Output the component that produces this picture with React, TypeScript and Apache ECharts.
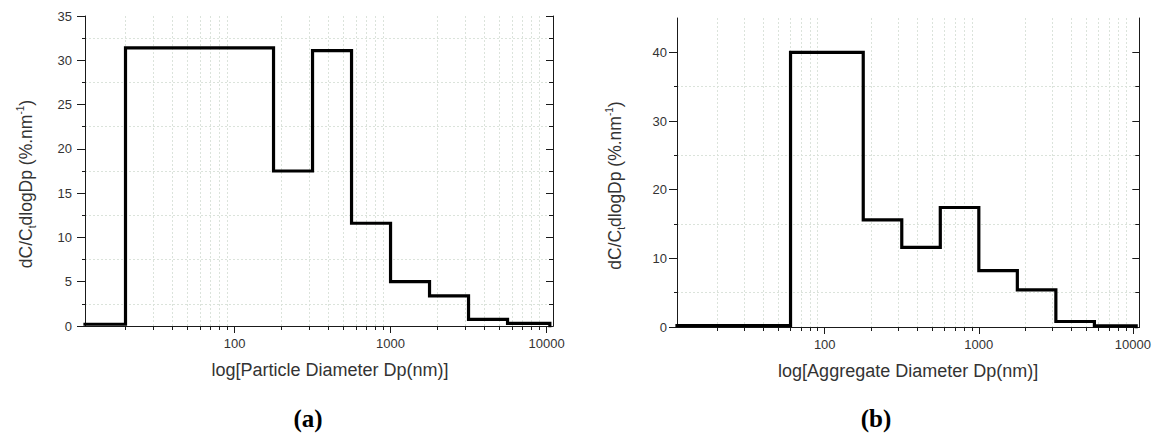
import React, { useEffect, useRef } from 'react';
import * as echarts from 'echarts';

// ---- data ----
const X_MIN = 11;
const X_MAX = 11000;
const xMajorTicks = [100, 1000, 10000];
const xMinorTicks = [20, 30, 40, 50, 60, 70, 80, 90, 200, 300, 400, 500, 600, 700, 800, 900, 2000, 3000, 4000, 5000, 6000, 7000, 8000, 9000];

// panel (a): particle diameter bin edges (nm) and heights
const edgesA = [11, 20, 177.8, 316.2, 562.3, 1000, 1778, 3162, 5623, 10500];
const valuesA = [0.2, 31.4, 17.5, 31.1, 11.6, 5.0, 3.4, 0.75, 0.3];
const yMaxA = 35;
const yMajorTicksA = [0, 5, 10, 15, 20, 25, 30, 35];
const yMinorTicksA = [2.5, 7.5, 12.5, 17.5, 22.5, 27.5, 32.5];

// panel (b): aggregate diameter bin edges (nm) and heights
const edgesB = [11, 60, 177.8, 316.2, 562.3, 1000, 1778, 3162, 5623, 10500];
const valuesB = [0.2, 40.0, 15.6, 11.6, 17.4, 8.2, 5.4, 0.8, 0.15];
const yMaxB = 45;
const yMajorTicksB = [0, 10, 20, 30, 40];
const yMinorTicksB = [5, 15, 25, 35];

const xTitleA = 'log[Particle Diameter Dp(nm)]';
const xTitleB = 'log[Aggregate Diameter Dp(nm)]';
const panelLabels = ['(a)', '(b)'];

const FONT = '"Liberation Sans", Arial, sans-serif';
const AXIS_COLOR = '#1a1a1a';
const LABEL_COLOR = '#333';
const GRID_STYLE = { color: '#dbe3db', width: 1, type: [2, 2] as any };

function stepData(edges: number[], values: number[]) {
  return edges.map((e, i) => [e, i < values.length ? values[i] : 0]);
}

const yTitleRich = {
  a: { fontSize: 17.5, fontFamily: FONT, color: LABEL_COLOR, lineHeight: 22 },
  sub: { fontSize: 10, fontFamily: FONT, color: LABEL_COLOR, lineHeight: 10, verticalAlign: 'bottom' },
  sup: { fontSize: 10, fontFamily: FONT, color: LABEL_COLOR, lineHeight: 10, verticalAlign: 'top' },
};
const yTitle = '{a|dC/C}{sub|t}{a|dlogDp (%.nm}{sup|-1}{a|)}';

function buildPanel(
  g: number,
  yMax: number,
  yMajor: number[],
  yMinor: number[],
  xTitle: string,
  xTitlePad: number[],
  yLabelMargin: number,
  yNameGap: number,
) {
  const line = { show: true, lineStyle: { color: AXIS_COLOR, width: 1 } };
  const tickStyle = { color: AXIS_COLOR, width: 1 };
  const xBase = { type: 'log', logBase: 10, gridIndex: g, min: X_MIN, max: X_MAX };
  const yBase = { type: 'value', gridIndex: g, min: 0, max: yMax };
  const xAxes = [
    {
      ...xBase,
      position: 'bottom',
      axisLine: line,
      axisTick: { show: true, inside: false, length: 6, customValues: xMajorTicks, lineStyle: tickStyle },
      axisLabel: {
        show: true,
        customValues: xMajorTicks,
        formatter: (v: number) => String(Math.round(v)),
        color: LABEL_COLOR,
        fontSize: 13,
        fontFamily: FONT,
        margin: 11,
      },
      splitLine: { show: false },
      name: xTitle,
      nameLocation: 'middle',
      nameGap: 35,
      nameTextStyle: { fontSize: 18, fontFamily: FONT, color: LABEL_COLOR, padding: xTitlePad },
    },
    {
      ...xBase,
      position: 'bottom',
      axisLine: { show: false },
      axisTick: { show: true, inside: false, length: 4, customValues: xMinorTicks, lineStyle: tickStyle },
      axisLabel: { show: false },
      splitLine: { show: true, lineStyle: GRID_STYLE },
    },
    {
      ...xBase,
      position: 'top',
      axisLine: line,
      axisTick: { show: true, inside: true, length: 7, customValues: xMajorTicks, lineStyle: tickStyle },
      axisLabel: { show: false },
      splitLine: { show: false },
    },
    {
      ...xBase,
      position: 'top',
      axisLine: { show: false },
      axisTick: { show: true, inside: true, length: 4, customValues: xMinorTicks, lineStyle: tickStyle },
      axisLabel: { show: false },
      splitLine: { show: false },
    },
  ];
  const yAxes = [
    {
      ...yBase,
      position: 'left',
      axisLine: line,
      axisTick: { show: true, inside: false, length: 8, customValues: yMajor, lineStyle: tickStyle },
      axisLabel: {
        show: true,
        customValues: yMajor,
        color: LABEL_COLOR,
        fontSize: 13,
        fontFamily: FONT,
        margin: yLabelMargin,
      },
      splitLine: { show: false },
      name: yTitle,
      nameLocation: 'middle',
      nameGap: yNameGap,
      nameTextStyle: { rich: yTitleRich, padding: [0, 26, 0, 0] },
    },
    {
      ...yBase,
      position: 'left',
      axisLine: { show: false },
      axisTick: { show: true, inside: false, length: 3, customValues: yMinor, lineStyle: tickStyle },
      axisLabel: { show: false },
      splitLine: { show: true, lineStyle: GRID_STYLE },
    },
    {
      ...yBase,
      position: 'right',
      axisLine: line,
      axisTick: { show: true, inside: true, length: 7, customValues: yMajor, lineStyle: tickStyle },
      axisLabel: { show: false },
      splitLine: { show: false },
    },
    {
      ...yBase,
      position: 'right',
      axisLine: { show: false },
      axisTick: { show: true, inside: true, length: 4, customValues: yMinor, lineStyle: tickStyle },
      axisLabel: { show: false },
      splitLine: { show: false },
    },
  ];
  return { xAxes, yAxes };
}

export default function App() {
  const ref = useRef<HTMLDivElement>(null);
  useEffect(() => {
    if (!ref.current) return;
    const chart = echarts.init(ref.current, undefined, { renderer: 'svg' });
    const pA = buildPanel(0, yMaxA, yMajorTicksA, yMinorTicksA, xTitleA, [0, 0, 0, 22], 13, 48);
    const pB = buildPanel(1, yMaxB, yMajorTicksB, yMinorTicksB, xTitleB, [0, 0, 0, 0], 10, 51);
    const option: any = {
      animation: false,
      backgroundColor: '#ffffff',
      grid: [
        { left: 85, top: 16, width: 468, height: 310 },
        { left: 677, top: 18, width: 465, height: 309 },
      ],
      xAxis: [...pA.xAxes, ...pB.xAxes],
      yAxis: [...pA.yAxes, ...pB.yAxes],
      series: [
        {
          type: 'line',
          xAxisIndex: 0,
          yAxisIndex: 0,
          step: 'end',
          symbol: 'none',
          data: stepData(edgesA, valuesA),
          lineStyle: { color: '#000', width: 3.2, join: 'miter', cap: 'square' },
          z: 5,
        },
        {
          type: 'line',
          xAxisIndex: 4,
          yAxisIndex: 4,
          step: 'end',
          symbol: 'none',
          data: stepData(edgesB, valuesB),
          lineStyle: { color: '#000', width: 3.2, join: 'miter', cap: 'square' },
          z: 5,
        },
      ],
      graphic: [
        {
          type: 'text',
          x: 308,
          y: 418,
          style: {
            text: panelLabels[0],
            font: 'bold 25px "Liberation Serif", "Times New Roman", serif',
            fill: '#000',
            align: 'center',
            verticalAlign: 'middle',
          },
        },
        {
          type: 'text',
          x: 876,
          y: 418,
          style: {
            text: panelLabels[1],
            font: 'bold 25px "Liberation Serif", "Times New Roman", serif',
            fill: '#000',
            align: 'center',
            verticalAlign: 'middle',
          },
        },
      ],
    };
    chart.setOption(option);
    return () => chart.dispose();
  }, []);
  return (
    <div
      ref={ref}
      style={{ position: 'absolute', left: 0, top: 0, width: 1154, height: 433, background: '#fff' }}
    />
  );
}
